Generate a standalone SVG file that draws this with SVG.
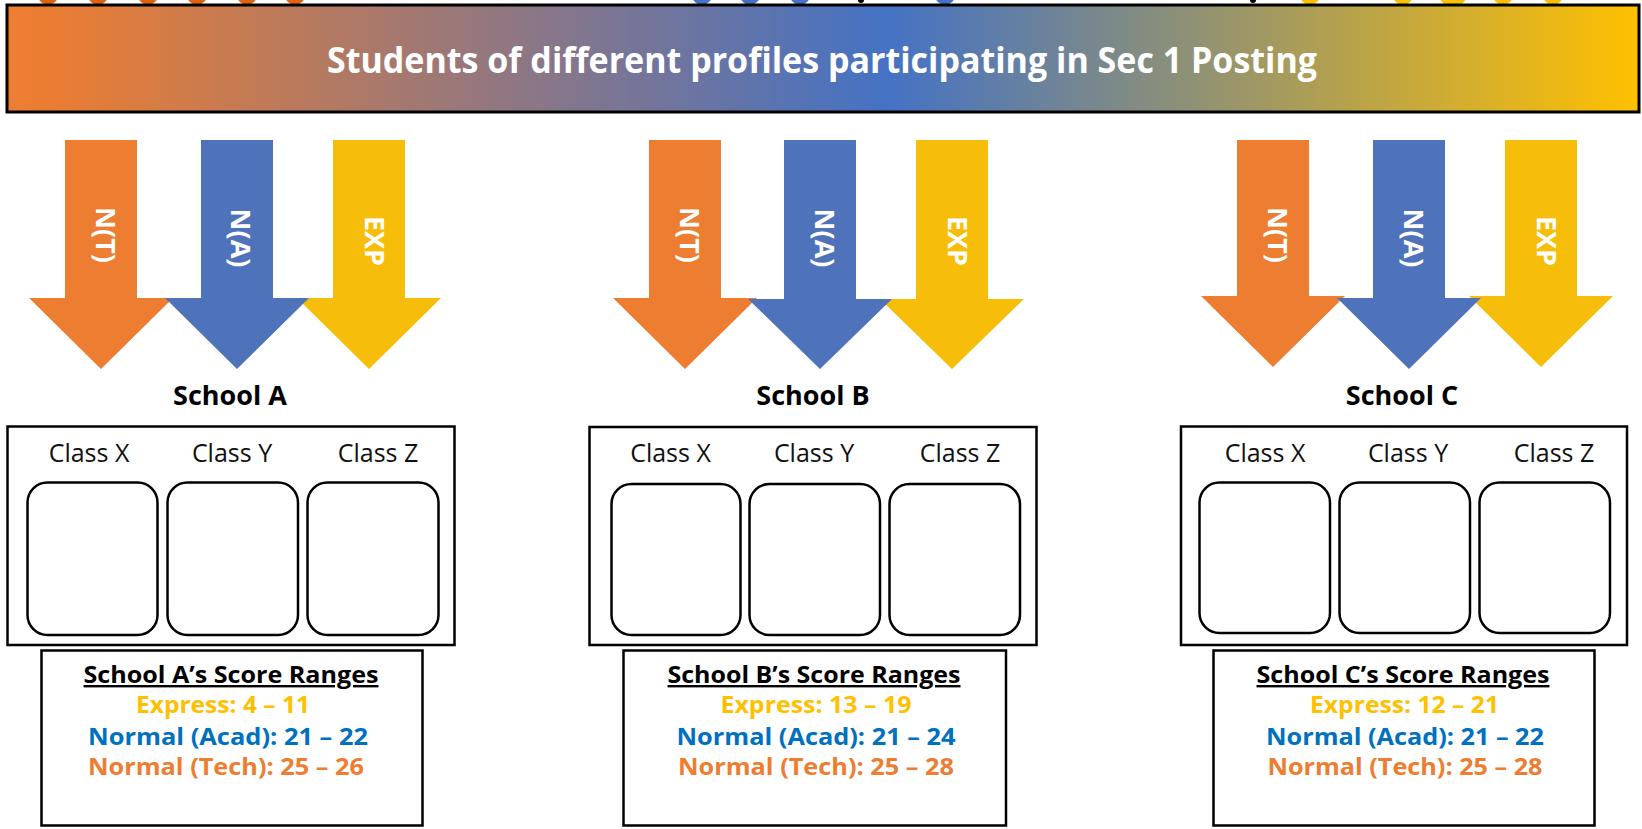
<svg xmlns="http://www.w3.org/2000/svg" width="1642" height="829" viewBox="0 0 1642 829">
  <defs>
    <linearGradient id="bannerGrad" x1="0" y1="0" x2="1" y2="0">
      <stop offset="0" stop-color="#ED7D31"/>
      <stop offset="0.03" stop-color="#EA7D33"/>
      <stop offset="0.54" stop-color="#4472C4"/>
      <stop offset="1" stop-color="#FFC000"/>
    </linearGradient>
    <style>
      .box { fill: #FFFFFF; stroke: #000000; stroke-width: 2.5; }
      .cls { fill: #FFFFFF; stroke: #000000; stroke-width: 2.5; }
      .clsLabel { font-family: "Open Sans", "Noto Sans", sans-serif; font-size: 25px; fill: #111111; text-anchor: middle; }
      .school { font-family: "Open Sans", "Noto Sans", sans-serif; font-size: 27px; font-weight: bold; fill: #000000; text-anchor: middle; }
      .arrLabel { font-family: "Open Sans", "Noto Sans", sans-serif; font-size: 27px; font-weight: bold; fill: #FFFFFF; text-anchor: middle; }
      .scoreTitle { font-family: "Open Sans", "Noto Sans", sans-serif; font-size: 24px; font-weight: bold; fill: #000000; text-anchor: middle; text-decoration: underline; }
      .score { font-family: "Open Sans", "Noto Sans", sans-serif; font-size: 24px; font-weight: bold; text-anchor: middle; }
      .exp { fill: #FFC000; }
      .acad { fill: #0070C0; }
      .tech { fill: #ED7D31; }
      .aOr { fill: #ED7D31; }
      .aBl { fill: #4E73BA; }
      .aYe { fill: #F6BE0A; }
    </style>
  </defs>

  <rect x="0" y="0" width="1642" height="829" fill="#FFFFFF"/>

  <!-- partially visible shapes above the banner -->
  <g id="top-slivers">
    <circle cx="48" cy="-5" r="10" fill="#E06410"/>
    <circle cx="98" cy="-5" r="10" fill="#E06410"/>
    <circle cx="148" cy="-5" r="10" fill="#E06410"/>
    <circle cx="197" cy="-5" r="10" fill="#E06410"/>
    <circle cx="247" cy="-5" r="10" fill="#E06410"/>
    <circle cx="295" cy="-5" r="10" fill="#E06410"/>
    <circle cx="702" cy="-5" r="10" fill="#4472C4"/>
    <circle cx="750" cy="-5" r="10" fill="#4472C4"/>
    <circle cx="800" cy="-5" r="10" fill="#4472C4"/>
    <circle cx="945" cy="-5" r="10" fill="#4472C4"/>
    <circle cx="861" cy="0" r="3" fill="#000000"/>
    <circle cx="1253" cy="0" r="3" fill="#000000"/>
    <circle cx="1310" cy="-5" r="10" fill="#FFC000"/>
    <circle cx="1403" cy="-5" r="10" fill="#FFC000"/>
    <circle cx="1453" cy="-7" r="14" fill="#FFC000"/>
    <circle cx="1503" cy="-5" r="10" fill="#FFC000"/>
    <circle cx="1553" cy="-5" r="10" fill="#FFC000"/>
  </g>

  <g id="banner">
    <rect x="7" y="5" width="1632" height="107" fill="url(#bannerGrad)" stroke="#000000" stroke-width="3"/>
    <text x="822" y="73" textLength="990" lengthAdjust="spacingAndGlyphs" font-family="Open Sans, Noto Sans, sans-serif" font-size="35" font-weight="bold" fill="#FFFFFF" text-anchor="middle">Students of different profiles participating in Sec 1 Posting</text>
  </g>

  <g id="connectors">
    <!-- School A arrows -->
    <path class="aOr" d="M65 140 H137 V298 H173 L101 369 L29 298 H65 Z"/>
    <path class="aYe" d="M333 140 H405 V298 H441 L369 369 L297 298 H333 Z"/>
    <path class="aBl" d="M201 140 H273 V298 H309 L237 369 L165 298 H201 Z"/>
    <!-- School B arrows -->
    <path class="aOr" d="M649 140 H721 V298 H757 L685 369 L613 298 H649 Z"/>
    <path class="aYe" d="M916 140 H988 V299 H1024 L952 369 L880 299 H916 Z"/>
    <path class="aBl" d="M784 140 H856 V299 H892 L820 369 L748 299 H784 Z"/>
    <!-- School C arrows -->
    <path class="aOr" d="M1237 140 H1309 V296 H1345 L1273 367 L1201 296 H1237 Z"/>
    <path class="aYe" d="M1505 140 H1577 V296 H1613 L1541 367 L1469 296 H1505 Z"/>
    <path class="aBl" d="M1373 140 H1445 V298 H1481 L1409 369 L1337 298 H1373 Z"/>
  </g>

  <g id="arrow-labels">
    <text class="arrLabel" transform="translate(96,235) rotate(90)">N(T)</text>
    <text class="arrLabel" transform="translate(231,238) rotate(90)">N(A)</text>
    <text class="arrLabel" transform="translate(365,241) rotate(90)">EXP</text>
    <text class="arrLabel" transform="translate(680,235) rotate(90)">N(T)</text>
    <text class="arrLabel" transform="translate(815,238) rotate(90)">N(A)</text>
    <text class="arrLabel" transform="translate(948,241) rotate(90)">EXP</text>
    <text class="arrLabel" transform="translate(1268,235) rotate(90)">N(T)</text>
    <text class="arrLabel" transform="translate(1404,238) rotate(90)">N(A)</text>
    <text class="arrLabel" transform="translate(1537,241) rotate(90)">EXP</text>
  </g>

  <g id="school-a">
    <text class="school" x="230" y="405">School A</text>
    <rect class="box" x="7.5" y="426.5" width="447" height="218.5"/>
    <text class="clsLabel" x="89" y="462">Class X</text>
    <text class="clsLabel" x="232" y="462">Class Y</text>
    <text class="clsLabel" x="378" y="462">Class Z</text>
    <rect class="cls" x="27.5" y="482.5" width="130" height="152.5" rx="20"/>
    <rect class="cls" x="167.5" y="482.5" width="130.5" height="152.5" rx="20"/>
    <rect class="cls" x="307.5" y="482.5" width="131" height="152.5" rx="20"/>
  </g>
  <g id="score-a">
    <rect class="box" x="41.5" y="650.5" width="381" height="175"/>
    <text class="scoreTitle" x="231" y="683" textLength="295" lengthAdjust="spacingAndGlyphs">School A’s Score Ranges</text>
    <text class="score exp" x="223" y="713" textLength="174" lengthAdjust="spacingAndGlyphs">Express: 4 – 11</text>
    <text class="score acad" x="228" y="745" textLength="280" lengthAdjust="spacingAndGlyphs">Normal (Acad): 21 – 22</text>
    <text class="score tech" x="226" y="775" textLength="276" lengthAdjust="spacingAndGlyphs">Normal (Tech): 25 – 26</text>
  </g>

  <g id="school-b">
    <text class="school" x="813" y="405">School B</text>
    <rect class="box" x="589.5" y="427" width="447" height="218"/>
    <text class="clsLabel" x="670.5" y="462">Class X</text>
    <text class="clsLabel" x="814" y="462">Class Y</text>
    <text class="clsLabel" x="960" y="462">Class Z</text>
    <rect class="cls" x="611.5" y="484" width="129" height="151" rx="20"/>
    <rect class="cls" x="749.5" y="484" width="130.5" height="151" rx="20"/>
    <rect class="cls" x="889.5" y="484" width="130.5" height="151" rx="20"/>
  </g>
  <g id="score-b">
    <rect class="box" x="623.5" y="650.5" width="382.5" height="175"/>
    <text class="scoreTitle" x="814" y="683" textLength="293" lengthAdjust="spacingAndGlyphs">School B’s Score Ranges</text>
    <text class="score exp" x="816" y="713" textLength="191" lengthAdjust="spacingAndGlyphs">Express: 13 – 19</text>
    <text class="score acad" x="816" y="745" textLength="279" lengthAdjust="spacingAndGlyphs">Normal (Acad): 21 – 24</text>
    <text class="score tech" x="816" y="775" textLength="276" lengthAdjust="spacingAndGlyphs">Normal (Tech): 25 – 28</text>
  </g>

  <g id="school-c">
    <text class="school" x="1402" y="405">School C</text>
    <rect class="box" x="1181" y="426.5" width="446" height="218.5"/>
    <text class="clsLabel" x="1265" y="462">Class X</text>
    <text class="clsLabel" x="1408" y="462">Class Y</text>
    <text class="clsLabel" x="1554" y="462">Class Z</text>
    <rect class="cls" x="1199.5" y="482.5" width="130.5" height="150.5" rx="20"/>
    <rect class="cls" x="1339.5" y="482.5" width="130.5" height="150.5" rx="20"/>
    <rect class="cls" x="1479.5" y="482.5" width="130.5" height="150.5" rx="20"/>
  </g>
  <g id="score-c">
    <rect class="box" x="1213.5" y="650.5" width="381" height="175"/>
    <text class="scoreTitle" x="1403" y="683" textLength="293" lengthAdjust="spacingAndGlyphs">School C’s Score Ranges</text>
    <text class="score exp" x="1404.5" y="713" textLength="189" lengthAdjust="spacingAndGlyphs">Express: 12 – 21</text>
    <text class="score acad" x="1405" y="745" textLength="278" lengthAdjust="spacingAndGlyphs">Normal (Acad): 21 – 22</text>
    <text class="score tech" x="1405" y="775" textLength="275" lengthAdjust="spacingAndGlyphs">Normal (Tech): 25 – 28</text>
  </g>
</svg>
